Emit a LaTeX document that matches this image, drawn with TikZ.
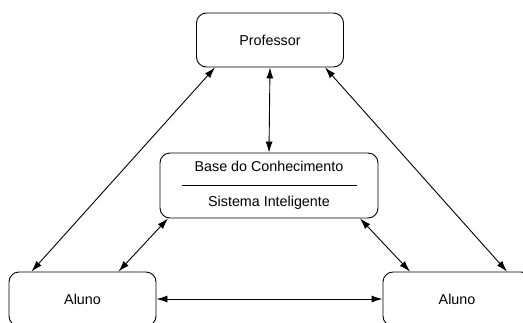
\documentclass[tikz,border=0pt]{standalone}
\usepackage{fontspec}
\setmainfont{Liberation Sans}
\usetikzlibrary{arrows.meta}
\tikzset{
  caixa/.style={draw,rounded corners=10pt,line width=0.9pt,minimum width=147pt,minimum height=54pt,
    font=\fontsize{14.3}{17}\selectfont},
  seta/.style={<->,line width=0.9pt}
}
\begin{document}
\begin{tikzpicture}[x=1pt,y=-1pt,>={Latex[length=11pt,width=7pt]}]
\useasboundingbox (0,0) rectangle (523,322);
\node[caixa] (prof) at (270,40) {Professor};
\node[caixa,minimum width=218pt,minimum height=65pt,align=center] (base) at (269,185.5)
  {Base do Conhecimento\\[18pt]Sistema Inteligente};
\node[caixa] (aluL) at (82.5,299) {Aluno};
\node[caixa,minimum width=148pt] (aluR) at (457,299) {Aluno};
\draw[line width=0.9pt] ([xshift=22]base.west) -- ([xshift=-21]base.east);
\draw[seta] ([xshift=-55]prof.south) -- ([xshift=-51]aluL.north);
\draw[seta] ([xshift=55]prof.south) -- ([xshift=50]aluR.north);
\draw[seta] (prof.south) -- (base.north);
\draw[seta] ([xshift=-101]base.south) -- ([xshift=36]aluL.north);
\draw[seta] ([xshift=91]base.south) -- ([xshift=-47]aluR.north);
\draw[seta] (aluL.east) -- (aluR.west);
\end{tikzpicture}
\end{document}
